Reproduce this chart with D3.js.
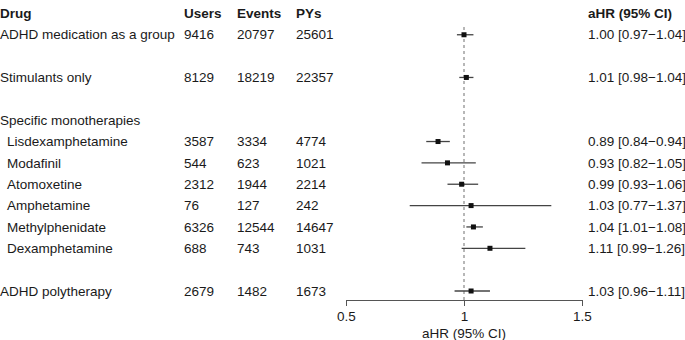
<!DOCTYPE html>
<html lang="en">
<head>
<meta charset="UTF-8">
<title>Forest plot</title>
<script src="https://d3js.org/d3.v7.min.js"></script>
<style>
  body { margin: 0; background: #fff; }
  svg { font-family: "Liberation Sans", Arial, sans-serif; }
  .txt { font-size: 13.5px; fill: #1a1a1a; }
  .hdr { font-size: 13.5px; font-weight: bold; fill: #1a1a1a; }
</style>
</head>
<body>
<script>
// row index (0 = header row)
const rowIdx  = [1, 3, 5, 6, 7, 8, 9, 10, 11, 13];
const drugs   = ["ADHD medication as a group", "Stimulants only", "Specific monotherapies",
                 "Lisdexamphetamine", "Modafinil", "Atomoxetine", "Amphetamine",
                 "Methylphenidate", "Dexamphetamine", "ADHD polytherapy"];
const indent  = [false, false, false, true, true, true, true, true, true, false];
const users   = ["9416", "8129", "", "3587", "544", "2312", "76", "6326", "688", "2679"];
const events  = ["20797", "18219", "", "3334", "623", "1944", "127", "12544", "743", "1482"];
const pys     = ["25601", "22357", "", "4774", "1021", "2214", "242", "14647", "1031", "1673"];
const hr      = [1.00, 1.01, null, 0.89, 0.93, 0.99, 1.03, 1.04, 1.11, 1.03];
const lo      = [0.97, 0.98, null, 0.84, 0.82, 0.93, 0.77, 1.01, 0.99, 0.96];
const hi      = [1.04, 1.04, null, 0.94, 1.05, 1.06, 1.37, 1.08, 1.26, 1.11];
const ciText  = ["1.00 [0.97\u22121.04]", "1.01 [0.98\u22121.04]", "",
                 "0.89 [0.84\u22120.94]", "0.93 [0.82\u22121.05]", "0.99 [0.93\u22121.06]",
                 "1.03 [0.77\u22121.37]", "1.04 [1.01\u22121.08]", "1.11 [0.99\u22121.26]",
                 "1.03 [0.96\u22121.11]"];
const headers = ["Drug", "Users", "Events", "PYs", "aHR (95% CI)"];
const xTicks  = [0.5, 1, 1.5];

const W = 685, H = 340;
const svg = d3.select("body").append("svg").attr("width", W).attr("height", H);

const y = d3.scaleLinear().domain([0, 13]).range([13.4, 291]);
const x = d3.scaleLinear().domain([0.5, 1.5]).range([346, 582]);
const colX = [0, 184, 237, 296, 588];

// header
svg.selectAll(".hdr").data(headers).join("text")
  .attr("class", "hdr")
  .attr("x", (d, i) => colX[i]).attr("y", y(0)).attr("dy", "0.35em")
  .text(d => d);

const rows = drugs.map((d, i) => ({
  drug: d, idx: rowIdx[i], indent: indent[i], users: users[i], events: events[i],
  pys: pys[i], hr: hr[i], lo: lo[i], hi: hi[i], ci: ciText[i]
}));

const g = svg.selectAll(".row").data(rows).join("g")
  .attr("transform", d => `translate(0,${y(d.idx)})`);

g.append("text").attr("class", "txt").attr("x", d => d.indent ? 7 : 0).attr("dy", "0.35em").text(d => d.drug);
g.append("text").attr("class", "txt").attr("x", colX[1]).attr("dy", "0.35em").text(d => d.users);
g.append("text").attr("class", "txt").attr("x", colX[2]).attr("dy", "0.35em").text(d => d.events);
g.append("text").attr("class", "txt").attr("x", colX[3]).attr("dy", "0.35em").text(d => d.pys);
g.append("text").attr("class", "txt").attr("x", colX[4]).attr("dy", "0.35em").text(d => d.ci);

// reference line at 1
svg.append("line")
  .attr("x1", x(1)).attr("x2", x(1))
  .attr("y1", 27).attr("y2", 300)
  .attr("stroke", "#888").attr("stroke-width", 1.2)
  .attr("stroke-dasharray", "3,3");

const est = rows.filter(d => d.hr !== null);
svg.selectAll(".ci").data(est).join("line")
  .attr("x1", d => x(d.lo)).attr("x2", d => x(d.hi))
  .attr("y1", d => y(d.idx)).attr("y2", d => y(d.idx))
  .attr("stroke", "#444").attr("stroke-width", 1.3);

svg.selectAll(".pt").data(est).join("rect")
  .attr("x", d => x(d.hr) - 2.5).attr("y", d => y(d.idx) - 2.5)
  .attr("width", 5).attr("height", 5)
  .attr("fill", "#111");

// x axis
const axis = svg.append("g")
  .attr("transform", "translate(0,300)")
  .call(d3.axisBottom(x).tickValues(xTicks).tickFormat(d3.format("")).tickSize(6).tickSizeOuter(0));
axis.select(".domain").attr("stroke", "#555");
axis.selectAll(".tick line").attr("stroke", "#555");
axis.selectAll(".tick text")
  .attr("font-family", "Liberation Sans, Arial, sans-serif")
  .attr("font-size", 13.5).attr("fill", "#1a1a1a").attr("dy", "0.9em");

svg.append("text").attr("class", "txt")
  .attr("x", x(1)).attr("y", 333).attr("dy", "0.35em")
  .attr("text-anchor", "middle")
  .text("aHR (95% CI)");
</script>
</body>
</html>
